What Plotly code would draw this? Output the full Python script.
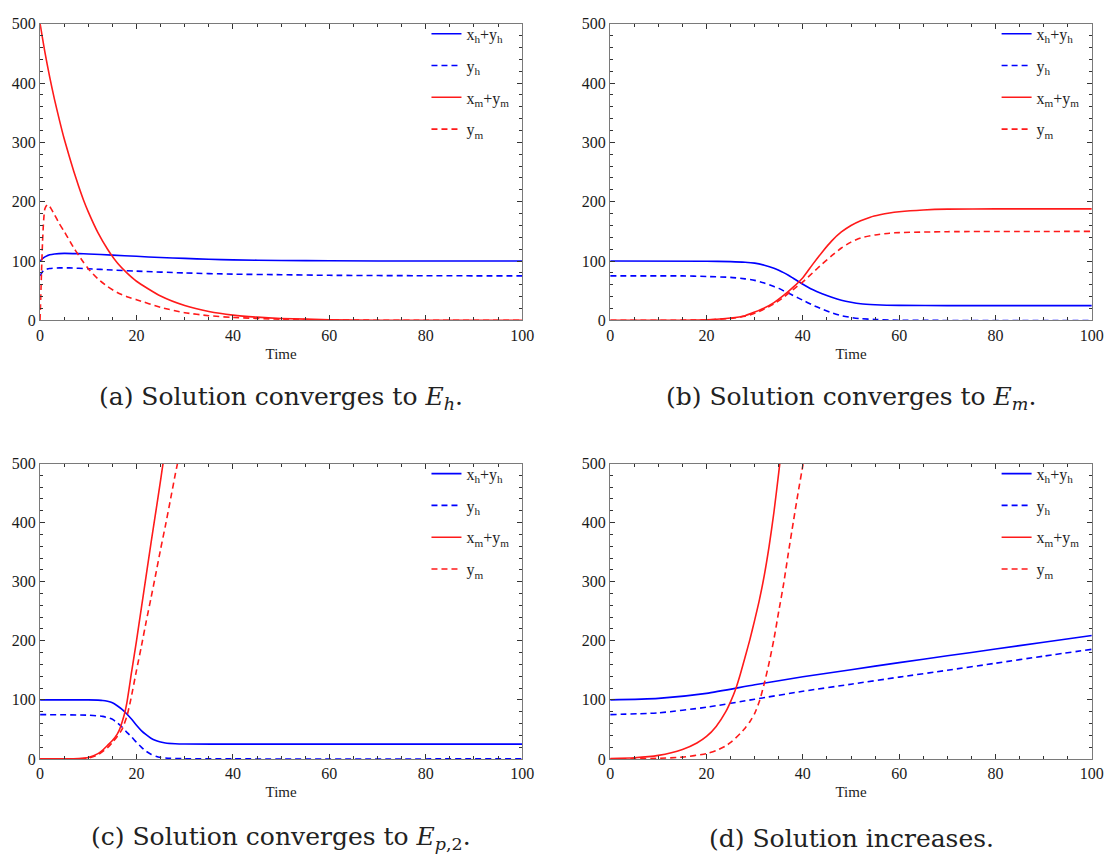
import plotly.graph_objects as go

# ---------------- data ----------------
# Panel (a)
a_hsum_t = [0, 0.5, 1, 2, 3, 5, 8, 10, 15, 20, 25, 30, 35, 40, 50, 60, 80, 100]
a_hsum_v = [100, 104, 107, 110.5, 112, 113, 112.5, 112, 110, 108, 106, 104.5, 103, 102, 101, 100.5, 100, 100]
a_yh_t = [0, 0.5, 1, 2, 4, 6, 10, 15, 20, 30, 40, 50, 60, 80, 100]
a_yh_v = [75, 82, 85.5, 87.5, 88.5, 88.5, 87, 85, 83, 80, 78, 77, 76, 75.3, 75]
a_msum_t = [0, 1, 2, 3, 4, 5, 6, 7, 8, 9, 10, 12, 14, 16, 18, 20, 25, 30, 35, 40, 45, 50, 60, 70, 80, 100]
a_msum_v = [500, 452, 410, 372, 338, 306, 278, 251, 226, 203, 183, 148, 120, 97, 80, 66, 41, 25, 15, 9, 5.5, 3.3, 1.2, 0.4, 0.15, 0]
a_ym_t = [0, 0.25, 0.5, 0.75, 1, 1.5, 2, 3, 4, 5, 6, 7, 8, 9, 10, 12, 14, 16, 18, 20, 25, 30, 35, 40, 50, 60, 80, 100]
a_ym_v = [0, 70, 130, 170, 188, 195, 192, 178, 163, 150, 136, 122, 110, 98, 87, 70, 57, 47, 40, 35, 22, 13, 8, 5, 2, 0.8, 0.1, 0]

# Panel (b)
b_hsum_t = [0, 20, 25, 28, 30, 32, 34, 35, 36, 37, 38, 39, 40, 42, 44, 46, 48, 50, 52, 55, 60, 70, 100]
b_hsum_v = [100, 99.8, 99, 98, 96.5, 93, 88, 84.5, 80.5, 76, 71, 66, 61, 52, 45, 39, 34, 30.5, 28, 26.5, 25.3, 25, 25]
b_yh_t = [0, 15, 20, 25, 28, 30, 32, 34, 35, 36, 37, 38, 39, 40, 42, 44, 46, 48, 50, 52, 55, 60, 100]
b_yh_v = [75, 75, 74, 72.5, 70, 67.5, 63, 57, 54, 50, 46, 42, 38, 34, 26, 19, 13, 8, 5, 3, 1.5, 0.3, 0]
b_msum_t = [0, 10, 15, 20, 25, 28, 30, 32, 34, 36, 38, 40, 42, 44, 46, 48, 50, 52, 54, 56, 58, 60, 65, 70, 80, 100]
b_msum_v = [0, 0.1, 0.3, 1, 4, 8, 14, 21, 30, 42, 56, 72, 94, 115, 134, 149, 160, 168, 174, 178, 181, 183, 186, 187.5, 188, 188]
b_ym_t = [0, 20, 25, 28, 30, 32, 34, 36, 38, 40, 42, 44, 46, 48, 50, 52, 55, 58, 60, 70, 100]
b_ym_v = [0, 1, 3.5, 7, 12, 19, 28, 39, 52, 65, 80, 95, 109, 122, 132, 139, 144, 147, 148, 149.5, 150]

# Panel (c)
c_hsum_t = [0, 10, 12, 13, 14, 15, 16, 17, 18, 19, 20, 21, 22, 23, 24, 25, 26, 28, 30, 40, 100]
c_hsum_v = [100, 100, 99.5, 99, 97.5, 95, 90, 84, 76, 67, 57, 48, 41, 35, 31, 28.5, 27, 25.7, 25.2, 25, 25]
c_yh_t = [0, 10, 13, 15, 16, 17, 18, 19, 20, 21, 22, 23, 24, 25, 27, 30, 40, 100]
c_yh_v = [75, 74, 72, 67, 61, 54, 45, 37, 28, 20, 13, 8, 4.5, 2.5, 1, 0.3, 0, 0]
c_msum_t = [0, 5, 8, 10, 12, 13, 14, 15, 16, 16.5, 17, 17.5, 18, 19, 20, 21, 22, 23, 24, 25, 25.5, 26]
c_msum_v = [0, 0.2, 0.8, 2.5, 9, 15, 23, 31, 42, 50, 62, 76, 95, 148, 200, 255, 310, 365, 418, 472, 500, 525]
c_ym_t = [0, 8, 10, 12, 14, 15, 16, 17, 18, 18.8, 20, 21, 22, 23, 24, 25, 26, 27, 28, 28.5, 29]
c_ym_v = [0, 0.3, 1.5, 7, 19, 28, 38, 50, 72, 100, 150, 190, 232, 272, 313, 355, 395, 437, 480, 500, 520]

# Panel (d)
d_hsum_t = [0, 10, 20, 30, 40, 50, 60, 70, 80, 90, 100]
d_hsum_v = [100, 102.5, 111, 125.5, 139, 151, 163, 174.5, 186, 197.5, 209]
d_yh_t = [0, 10, 20, 30, 40, 50, 60, 70, 80, 90, 100]
d_yh_v = [75, 78, 87.5, 101, 114.5, 126.5, 138.5, 150, 162, 174, 185.5]
d_msum_t = [0, 5, 10, 15, 18, 20, 22, 24, 25, 26, 27, 28, 29, 30, 31, 32, 33, 34, 35, 35.5]
d_msum_v = [0.8, 2, 6, 16, 27, 38, 55, 80, 97, 117, 143, 172, 202, 235, 270, 311, 360, 418, 485, 520]
d_ym_t = [0, 5, 10, 15, 20, 22, 24, 25, 26, 27, 28, 29, 30, 31, 32, 33, 34, 35, 36, 37, 38, 39, 40, 40.5]
d_ym_v = [0, 0.3, 1, 3, 9, 14, 22, 28, 35, 43, 52, 63, 77, 98, 128, 163, 203, 250, 296, 349, 400, 450, 497, 522]

series_names = ["x<sub>h</sub>+y<sub>h</sub>", "y<sub>h</sub>", "x<sub>m</sub>+y<sub>m</sub>", "y<sub>m</sub>"]
captions = [
    "(a) Solution converges to <i>E</i><sub><i>h</i></sub>.",
    "(b) Solution converges to <i>E</i><sub><i>m</i></sub>.",
    "(c) Solution converges to <i>E</i><sub><i>p</i>,2</sub>.",
    "(d) Solution increases.",
]
x_ticks = [0, 20, 40, 60, 80, 100]
y_ticks = [0, 100, 200, 300, 400, 500]

panels = [
    [(a_hsum_t, a_hsum_v), (a_yh_t, a_yh_v), (a_msum_t, a_msum_v), (a_ym_t, a_ym_v)],
    [(b_hsum_t, b_hsum_v), (b_yh_t, b_yh_v), (b_msum_t, b_msum_v), (b_ym_t, b_ym_v)],
    [(c_hsum_t, c_hsum_v), (c_yh_t, c_yh_v), (c_msum_t, c_msum_v), (c_ym_t, c_ym_v)],
    [(d_hsum_t, d_hsum_v), (d_yh_t, d_yh_v), (d_msum_t, d_msum_v), (d_ym_t, d_ym_v)],
]

# ---------------- layout geometry ----------------
W, H = 1119, 863
x_doms = [[36.6 / W, 525.7 / W], [615.0 / W, 1103.6 / W]]
y_doms = [[1 - 318.7 / H, 1 - 16.0 / H], [1 - 766.0 / H, 1 - 464.7 / H]]
styles = [("#0000FF", "solid"), ("#0000FF", "6px,4px"), ("#FF1A1A", "solid"), ("#FF1A1A", "6px,4px")]

SERIF = "Liberation Serif"
fig = go.Figure()

for p, data in enumerate(panels):
    idx = "" if p == 0 else str(p + 1)
    leg = "legend" if p == 0 else f"legend{p + 1}"
    for s, (t, v) in enumerate(data):
        col, dash = styles[s]
        fig.add_trace(go.Scatter(
            x=t, y=v, mode="lines", name=series_names[s],
            line=dict(color=col, width=1.6, dash=dash, shape="spline", smoothing=0.6),
            xaxis="x" + idx, yaxis="y" + idx,
            legend=leg, legendgroup=f"p{p}s{s}", showlegend=True,
        ))

layout = dict(
    width=W, height=H, margin=dict(l=0, r=0, t=0, b=0),
    paper_bgcolor="white", plot_bgcolor="white", showlegend=True,
    font=dict(family=SERIF, size=16, color="#222222"),
)

axis_common = dict(
    showgrid=False, zeroline=False, showline=True, linecolor="#7a7a7a", linewidth=1.4,
    mirror="ticks", ticks="inside", ticklen=5, tickwidth=1, tickcolor="#333333",
    tickfont=dict(family=SERIF, size=16, color="#1a1a1a"),
)

annotations = []
for p in range(4):
    col = p % 2
    row = p // 2
    idx = "" if p == 0 else str(p + 1)
    xd = x_doms[col]
    yd = y_doms[row]
    layout["xaxis" + idx] = dict(
        axis_common, domain=xd, range=[0, 100], tickvals=x_ticks,
        anchor="y" + idx,
        minor=dict(dtick=5, tick0=0, ticks="inside", ticklen=3, tickcolor="#333333"),
        title=dict(text="Time", font=dict(family=SERIF, size=15, color="#222222"), standoff=5),
    )
    layout["yaxis" + idx] = dict(
        axis_common, domain=yd, range=[0, 500], tickvals=y_ticks,
        anchor="x" + idx,
        minor=dict(dtick=20, tick0=0, ticks="inside", ticklen=3, tickcolor="#333333"),
    )
    leg = "legend" if p == 0 else f"legend{p + 1}"
    x_px0 = xd[0] * W
    layout[leg] = dict(
        x=(x_px0 + 392) / W, xanchor="left",
        y=yd[1] + 7 / H, yanchor="top",
        bgcolor="rgba(0,0,0,0)", borderwidth=0,
        font=dict(family=SERIF, size=16, color="#222222"),
        traceorder="grouped", tracegroupgap=8,
    )
    cx = (xd[0] + xd[1]) / 2
    cy_px = 398 if row == 0 else 847
    annotations.append(dict(
        text=captions[p], x=cx, y=1 - cy_px / H, xref="paper", yref="paper",
        xanchor="center", yanchor="middle", showarrow=False,
        font=dict(family="DejaVu Serif", size=25, color="#222222"),
    ))

layout["annotations"] = annotations
fig.update_layout(**layout)
fig.write_html("out.html")
